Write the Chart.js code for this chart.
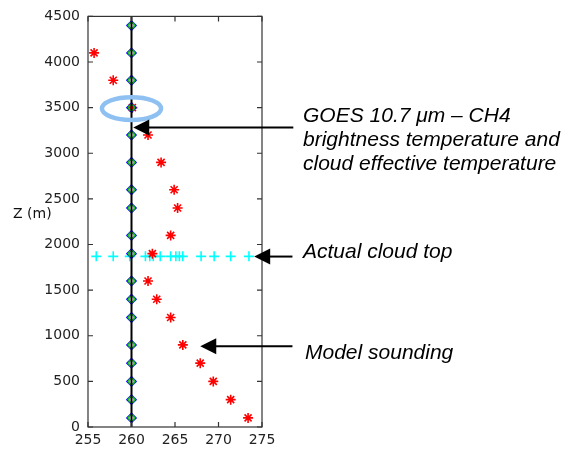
<!DOCTYPE html>
<html>
<head>
<meta charset="utf-8">
<script src="https://cdn.jsdelivr.net/npm/chart.js@4.4.1/dist/chart.umd.min.js"></script>
<style>
html,body{margin:0;padding:0;background:#fff;}
#wrap{width:566px;height:449px;position:relative;}
</style>
</head>
<body>
<div id="wrap"><canvas id="c" width="566" height="449"></canvas></div>
<script>
// ---- data ----
const markerHeights = [4400,4100,3800,3500,3200,2900,2600,2400,2100,1900,1600,1400,1200,900,700,500,300,100];
const goesTemp = 260;              // GOES 10.7um - CH4 brightness / cloud effective temperature (K)
const soundingHeights = [4100,3800,3500,3200,2900,2600,2400,2100,1900,1600,1400,1200,900,700,500,300,100];
const soundingTemps = [255.7,257.9,260.1,261.9,263.4,264.9,265.3,264.5,262.4,261.9,262.9,264.5,265.9,267.9,269.4,271.4,273.4];
const cloudTopHeight = 1870;
const cloudTopTemps = [255.95,257.9,259.8,261.6,262.1,262.5,263.3,264.5,265.1,265.5,265.9,268.0,269.5,271.4,273.5];
const xTicks = [255,260,265,270,275];
const yTicks = [0,500,1000,1500,2000,2500,3000,3500,4000,4500];
const yTitle = "Z (m)";
const highlight = {x:260, y:3490, rx:3.4, ry:125}; // ellipse around GOES level (data units)
const annotations = [
  {lines:["GOES 10.7 \u03bcm \u2013 CH4","brightness temperature and","cloud effective temperature"], tip:[260.2,3283], tailX:278.6},
  {lines:["Actual cloud top"], tip:[274.1,1868], tailX:278.5},
  {lines:["Model sounding"], tip:[267.9,884], tailX:278.5}
];
// text layout (pixels)
const annoText = [
  {x:303, y:122, lh:24},
  {x:303, y:258, lh:24},
  {x:305, y:359, lh:24}
];

const axisFont = {family:"'DejaVu Sans', sans-serif", size:14};
const axisColor = '#222';

const framePlugin = {
  id:'frame',
  afterDatasetsDraw(chart){
    const ctx = chart.ctx;
    const xs = chart.scales.x, ys = chart.scales.y;
    ctx.save();
    const cx = xs.getPixelForValue(highlight.x), cy = ys.getPixelForValue(highlight.y);
    const rx = Math.abs(xs.getPixelForValue(highlight.x+highlight.rx)-cx);
    const ry = Math.abs(ys.getPixelForValue(highlight.y+highlight.ry)-cy);
    ctx.strokeStyle = '#8fc0f2';
    ctx.lineWidth = 4.5;
    ctx.beginPath();
    ctx.ellipse(cx, cy, rx, ry, 0, 0, Math.PI*2);
    ctx.stroke();
    ctx.restore();
  },
  afterDraw(chart){
    const ctx = chart.ctx, a = chart.chartArea;
    const xs = chart.scales.x, ys = chart.scales.y;
    ctx.save();
    ctx.strokeStyle = '#333';
    ctx.lineWidth = 1.2;
    ctx.strokeRect(a.left, a.top, a.right-a.left, a.bottom-a.top);
    const tl = 5;
    ctx.beginPath();
    xTicks.forEach(v=>{
      const px = xs.getPixelForValue(v);
      ctx.moveTo(px, a.bottom); ctx.lineTo(px, a.bottom-tl);
      ctx.moveTo(px, a.top); ctx.lineTo(px, a.top+tl);
    });
    yTicks.forEach(v=>{
      const py = ys.getPixelForValue(v);
      ctx.moveTo(a.left, py); ctx.lineTo(a.left+tl, py);
      ctx.moveTo(a.right, py); ctx.lineTo(a.right-tl, py);
    });
    ctx.stroke();

    ctx.fillStyle = '#111';
    ctx.font = "14px 'DejaVu Sans', sans-serif";
    ctx.textAlign = 'left';
    ctx.textBaseline = 'alphabetic';
    ctx.fillText(yTitle, 13, 218);

    annotations.forEach((an, i)=>{
      const tx = xs.getPixelForValue(an.tip[0]);
      const ty = ys.getPixelForValue(an.tip[1]);
      const tailx = xs.getPixelForValue(an.tailX);
      const hl = 16, hw = 8;
      ctx.strokeStyle = '#000';
      ctx.fillStyle = '#000';
      ctx.lineWidth = 2;
      ctx.beginPath();
      ctx.moveTo(tx+hl-1, ty); ctx.lineTo(tailx, ty);
      ctx.stroke();
      ctx.beginPath();
      ctx.moveTo(tx, ty);
      ctx.lineTo(tx+hl, ty-hw);
      ctx.lineTo(tx+hl, ty+hw);
      ctx.closePath();
      ctx.fill();
      const t = annoText[i];
      ctx.font = "italic 21px 'Liberation Sans', Arial, sans-serif";
      ctx.fillStyle = '#000';
      an.lines.forEach((ln, k)=>{
        ctx.fillText(ln, t.x, t.y + k*t.lh);
      });
    });
    ctx.restore();
  }
};

new Chart(document.getElementById('c'), {
  type:'scatter',
  data:{
    datasets:[
      {
        label:'GOES line',
        data:[{x:goesTemp,y:0},{x:goesTemp,y:4500}],
        showLine:true, borderColor:'#000', borderWidth:2, pointRadius:0
      },
      {
        label:'Cloud effective',
        data:markerHeights.map(h=>({x:goesTemp,y:h})),
        pointStyle:'circle', pointRadius:2.7, borderColor:'#00c000', backgroundColor:'rgba(0,0,0,0)', borderWidth:1.4
      },
      {
        label:'GOES diamond',
        data:markerHeights.map(h=>({x:goesTemp,y:h})),
        pointStyle:'rectRot', pointRadius:4.8, borderColor:'#1010ff', backgroundColor:'rgba(0,0,0,0)', borderWidth:1.2
      },
      {
        label:'Model sounding',
        data:soundingHeights.map((h,i)=>({x:soundingTemps[i],y:h})),
        pointStyle:'star', pointRadius:5, borderColor:'#ff0000', backgroundColor:'#ff0000', borderWidth:1.6
      },
      {
        label:'Actual cloud top',
        data:cloudTopTemps.map(t=>({x:t,y:cloudTopHeight})),
        pointStyle:'cross', pointRadius:5, borderColor:'#00ffff', borderWidth:1.6
      }
    ]
  },
  options:{
    responsive:false,
    animation:false,
    events:[],
    layout:{padding:{left:0,top:13,right:304,bottom:0}},
    plugins:{legend:{display:false},tooltip:{enabled:false}},
    scales:{
      x:{
        type:'linear', min:255, max:275,
        grid:{display:false, drawTicks:false}, border:{display:false},
        afterBuildTicks(s){ s.ticks = xTicks.map(v=>({value:v})); },
        afterFit(s){ s.height = 22; },
        ticks:{font:axisFont, color:axisColor, padding:5, maxRotation:0, autoSkip:false, callback:v=>String(v)}
      },
      y:{
        type:'linear', min:0, max:4500,
        grid:{display:false, drawTicks:false}, border:{display:false},
        afterBuildTicks(s){ s.ticks = yTicks.map(v=>({value:v})); },
        afterFit(s){ s.width = 88; },
        ticks:{font:axisFont, color:axisColor, padding:8, autoSkip:false, callback:v=>String(v)}
      }
    }
  },
  plugins:[framePlugin]
});
</script>
</body>
</html>
